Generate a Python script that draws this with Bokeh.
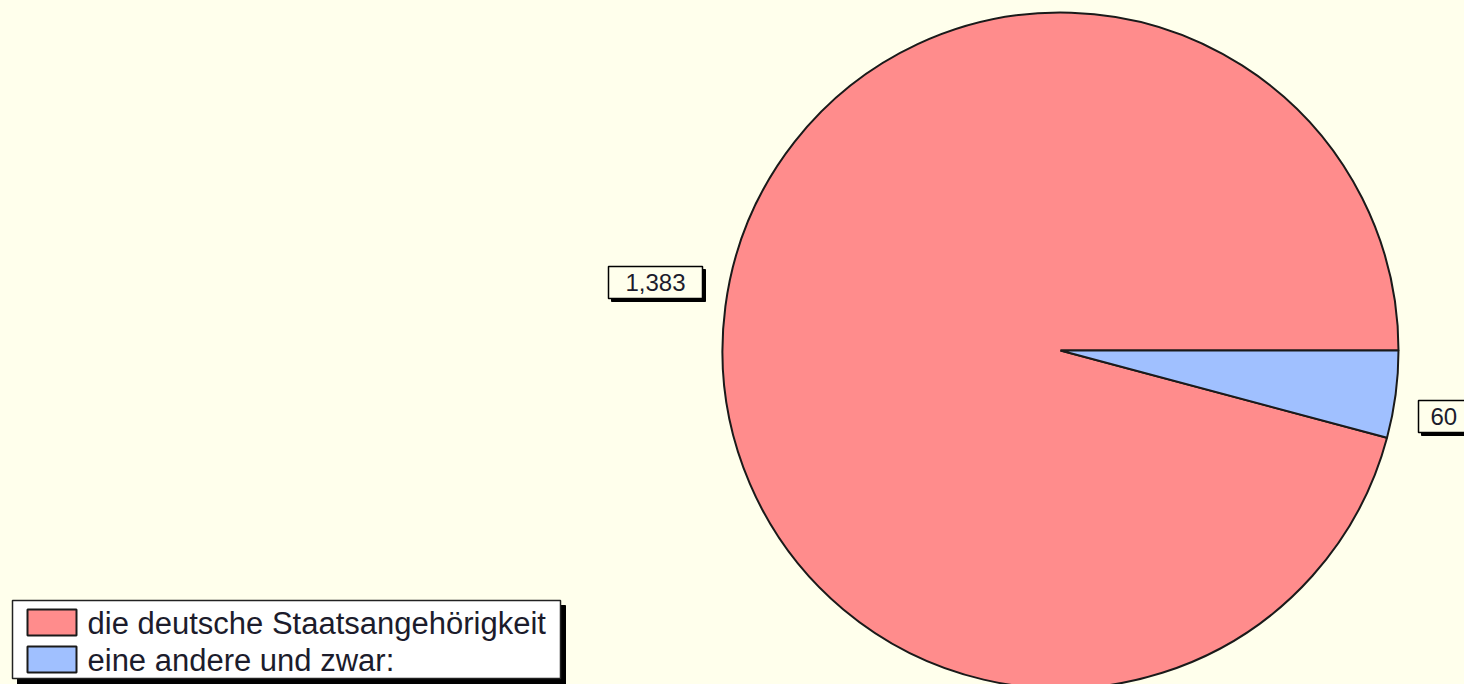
import math
from bokeh.plotting import figure
from bokeh.models import Range1d
from bokeh.core.properties import value
from bokeh.embed import file_html
from bokeh.resources import INLINE

# ---- data ----
categories = ["die deutsche Staatsangehörigkeit", "eine andere und zwar:"]
counts = [1383, 60]
colors = ["#FF8C8C", "#A0C0FF"]

# ---- layout (reference pixel space, y measured from top) ----
W, H = 1464, 684
BG = "#FFFFEC"
H_REF = 684


def Y(y):
    return H_REF - y


p = figure(width=W, height=H, output_backend="svg", toolbar_location=None,
           x_range=Range1d(0, W), y_range=Range1d(H_REF - H, H_REF),
           min_border=0, min_border_left=0, min_border_right=0,
           min_border_top=0, min_border_bottom=0)
p.axis.visible = False
p.xaxis.visible = False
p.yaxis.visible = False
p.grid.visible = False
p.outline_line_color = None
p.background_fill_color = BG
p.border_fill_color = BG

cx, cy, r = 1060, 350, 338
total = sum(counts)
start = 0.0
for c, col in zip(counts, colors):
    ang = 2 * math.pi * c / total
    p.wedge(x=cx, y=Y(cy), radius=r, start_angle=start, end_angle=start + ang,
            direction="anticlock", fill_color=col, line_color="#1a1a1a",
            line_width=2)
    start += ang

# value labels (box + shadow + text)
label_boxes = [(608, 702, 266, 298), (1418, 1470, 400, 432)]
font = value("Liberation Sans")
for c, (x0, x1, y0, y1) in zip(counts, label_boxes):
    p.quad(left=x0 + 3, right=x1 + 3, top=Y(y0 + 3), bottom=Y(y1 + 3),
           fill_color="black", line_color="black")
    p.quad(left=x0, right=x1, top=Y(y0), bottom=Y(y1),
           fill_color=BG, line_color="black", line_width=1.5)
    p.text(x=[(x0 + x1) / 2 if x1 < W else x0 + 12], y=[Y((y0 + y1) / 2)],
           text=[f"{c:,}"],
           text_font=font, text_font_size="24px", text_color="#1c1c2c",
           text_align="center" if x1 < W else "left", text_baseline="middle")

# legend
lx0, lx1, ly0, ly1 = 12, 560, 600, 678
p.quad(left=lx0 + 5, right=lx1 + 5, top=Y(ly0 + 5), bottom=Y(ly1 + 6),
       fill_color="black", line_color="black")
p.quad(left=lx0, right=lx1, top=Y(ly0), bottom=Y(ly1),
       fill_color="white", line_color="#222222", line_width=1.5)
row_tops = [609, 646]
for name, col, t in zip(categories, colors, row_tops):
    p.quad(left=27, right=76, top=Y(t), bottom=Y(t + 26),
           fill_color=col, line_color="#1a1a1a", line_width=2)
    p.text(x=[87], y=[Y(t + 14)], text=[name], text_font=font,
           text_font_size="31px", text_color="#1c1c2c",
           text_align="left", text_baseline="middle")

html = file_html(p, INLINE)
html = html.replace("<head>", "<head><style>body{background:%s;}</style>" % BG, 1)
open("out.html", "w").write(html)
